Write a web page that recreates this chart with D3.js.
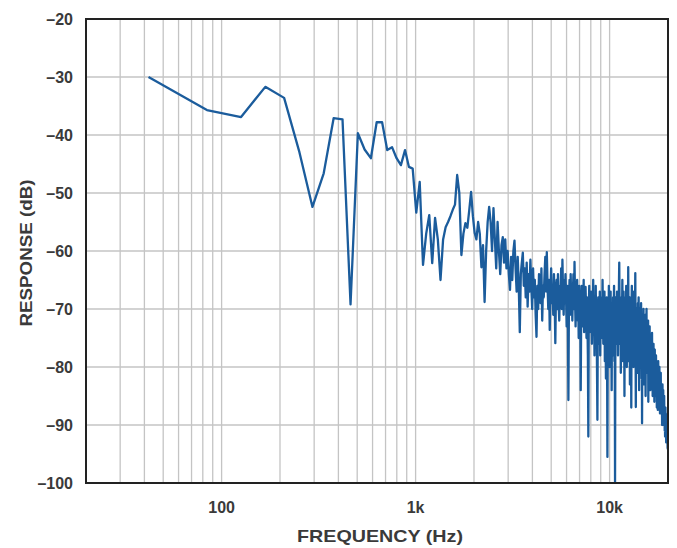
<!DOCTYPE html>
<html>
<head>
<meta charset="utf-8">
<script src="https://cdn.jsdelivr.net/npm/d3@7"></script>
<style>
  body { margin: 0; background: #fff; }
  text { font-family: "Liberation Sans", Arial, sans-serif; fill: #3a3a3a; font-weight: bold; }
</style>
</head>
<body>
<svg id="chart" width="677" height="548"></svg>
<script>
// FFT bins, 42 Hz apart, response (dB)
const binHz = 42;
const responseDb = [
  -30, -35.7, -36.9, -31.7, -33.6, -43, -52.4, -46.6, -37.1, -37.3,
  -69.2, -39.7, -42.5, -44, -37.8, -37.8, -42.6, -42.1, -44, -45.2,
  -42.6, -45.5, -45.8, -53.4, -48.1, -62.4, -57, -53.8, -62.1, -54.3,
  -58, -65, -58, -55.9, -55, -54, -52.9, -52, -46.9, -50,
  -60.7, -57, -55.2, -56, -53, -49.8, -54, -56.9, -58, -55,
  -57, -62.8, -59, -68.8, -60, -55, -52.4, -55, -60, -52.6,
  -58, -63, -55, -60, -64, -59, -57.6, -62, -58, -63,
  -60, -64, -66.7, -61, -65, -60, -58.2, -63, -67, -61,
  -66, -74, -64, -62, -60.3, -66, -63, -68, -62, -69.6,
  -64, -67, -61.5, -66, -70, -63, -68, -65, -71, -74.8,
  -66, -70, -64, -65.5, -69, -63, -72, -66, -68, -64,
  -61, -67, -60.2, -66, -70, -65, -73.6, -67, -63, -69,
  -66, -71, -64, -68, -75.9, -67, -65, -70, -64, -69,
  -72, -66, -68, -63, -70, -61.5, -67, -71, -65, -69,
  -64, -68, -73, -66, -70, -85.7, -68, -65, -71, -64,
  -69, -66, -72, -67, -64, -70, -61.9, -68, -73, -66,
  -70, -65, -72, -68, -75, -66, -71, -69, -84, -70,
  -66, -73, -68, -71, -65, -74, -69, -72, -66.2, -70,
  -75, -68, -72, -78, -92, -70, -66, -74, -69, -73,
  -67, -71, -76, -68, -72, -65, -74, -70, -78, -68,
  -73, -66, -75, -70, -80, -89.1, -72, -68, -76, -70,
  -74, -67, -78, -71, -69, -75, -68, -73, -65, -71,
  -76, -69, -73, -67, -79, -70, -74, -82, -71, -68,
  -77, -95.5, -73, -69, -75, -66, -72, -80, -70, -74,
  -67, -76, -71, -84, -69, -73, -78, -68, -75, -71,
  -66, -79, -72, -100, -74, -68, -76, -70, -73, -67,
  -75, -71, -78, -69, -74, -66, -62, -70, -76, -72,
  -68, -81, -73, -69, -77, -71, -65, -74, -79, -70,
  -67, -76, -72, -85, -70, -74, -68, -78, -71, -66,
  -75, -80, -70, -73, -67, -77, -62.8, -72, -79, -70,
  -74, -68, -83, -71, -76, -69, -73, -87, -70, -66,
  -75, -72, -78, -69, -74, -80, -71, -67, -76, -73,
  -79, -70, -63.8, -75, -86.9, -72, -77, -70, -74, -81,
  -72, -76, -69, -79, -73, -68, -77, -84, -71, -75,
  -70, -78, -74, -80, -72, -69, -76, -82, -73, -89.7,
  -75, -71, -79, -74, -77, -70, -83, -76, -72, -80,
  -74, -78, -71, -76, -85, -73, -79, -75, -70, -81,
  -77, -73, -80, -75, -78, -72, -86, -76, -79, -74,
  -82, -77, -73, -80, -76, -84, -78, -75, -81, -77,
  -79, -83, -76, -74.1, -80, -78, -85, -77, -82, -79,
  -76, -84, -80, -78, -86, -79, -77, -83, -81, -78,
  -85, -80, -78, -84, -82, -79, -87, -81, -83, -80,
  -84, -87.4, -82, -79, -85, -83, -81, -86, -84, -80,
  -86, -83, -88, -82, -85, -84, -81, -87, -85, -83,
  -88, -84, -86, -90, -85, -83, -87, -86, -89, -84,
  -88, -86, -90, -87, -85, -89, -88, -91, -87, -92,
  -89, -87, -91, -88, -90, -93, -89, -91, -92, -90,
  -93, -91, -92, -94, -92, -94.3
];

const yTicks = [-20, -30, -40, -50, -60, -70, -80, -90, -100];
const xGrid = [30, 40, 50, 60, 70, 80, 90, 100, 200, 300, 400, 500, 600, 700, 800, 900,
  1000, 2000, 3000, 4000, 5000, 6000, 7000, 8000, 9000, 10000];
const xLabels = [[100, '100'], [1000, '1k'], [10000, '10k']];

const margin = { left: 86, top: 19, right: 668, bottom: 483 };

const svg = d3.select('#chart');

const x = d3.scaleLog().domain([20, 20000]).range([margin.left, margin.right]);
const y = d3.scaleLinear().domain([-100, -20]).range([margin.bottom, margin.top]);

// grid
svg.append('g')
  .selectAll('line')
  .data(xGrid)
  .enter()
  .append('line')
  .attr('x1', d => x(d)).attr('x2', d => x(d))
  .attr('y1', margin.top).attr('y2', margin.bottom)
  .attr('stroke', '#c4c4c4')
  .attr('stroke-width', 1.3);

svg.append('g')
  .selectAll('line')
  .data(yTicks.slice(1, -1))
  .enter()
  .append('line')
  .attr('x1', margin.left).attr('x2', margin.right)
  .attr('y1', d => y(d)).attr('y2', d => y(d))
  .attr('stroke', '#c4c4c4')
  .attr('stroke-width', 1.3);

// the response trace
svg.append('clipPath').attr('id', 'plot-clip')
  .append('rect')
  .attr('x', margin.left).attr('y', margin.top)
  .attr('width', margin.right - margin.left)
  .attr('height', margin.bottom - margin.top);

const line = d3.line()
  .x((d, i) => x((i + 1) * binHz))
  .y(d => y(d));

svg.append('path')
  .datum(responseDb)
  .attr('clip-path', 'url(#plot-clip)')
  .attr('fill', 'none')
  .attr('stroke', '#1b5c9c')
  .attr('stroke-width', 2.3)
  .attr('stroke-linejoin', 'round')
  .attr('d', line);

// frame
svg.append('rect')
  .attr('x', margin.left).attr('y', margin.top)
  .attr('width', margin.right - margin.left)
  .attr('height', margin.bottom - margin.top)
  .attr('fill', 'none')
  .attr('stroke', '#222')
  .attr('stroke-width', 2);

// y tick labels
svg.append('g')
  .selectAll('text')
  .data(yTicks)
  .enter()
  .append('text')
  .attr('x', 73)
  .attr('y', d => y(d) + 6)
  .attr('text-anchor', 'end')
  .style('font-size', '16px')
  .text(d => '\u2013' + Math.abs(d));

// x tick labels
svg.append('g')
  .selectAll('text')
  .data(xLabels)
  .enter()
  .append('text')
  .attr('x', d => x(d[0]))
  .attr('y', 513)
  .attr('text-anchor', 'middle')
  .style('font-size', '16px')
  .text(d => d[1]);

// axis titles
svg.append('text')
  .attr('x', 380)
  .attr('y', 542)
  .attr('text-anchor', 'middle')
  .attr('textLength', 166)
  .attr('lengthAdjust', 'spacingAndGlyphs')
  .style('font-size', '17px')
  .text('FREQUENCY (Hz)');

svg.append('text')
  .attr('transform', 'rotate(-90)')
  .attr('x', -253)
  .attr('y', 32)
  .attr('text-anchor', 'middle')
  .attr('textLength', 147)
  .attr('lengthAdjust', 'spacingAndGlyphs')
  .style('font-size', '17px')
  .text('RESPONSE (dB)');
</script>
</body>
</html>
